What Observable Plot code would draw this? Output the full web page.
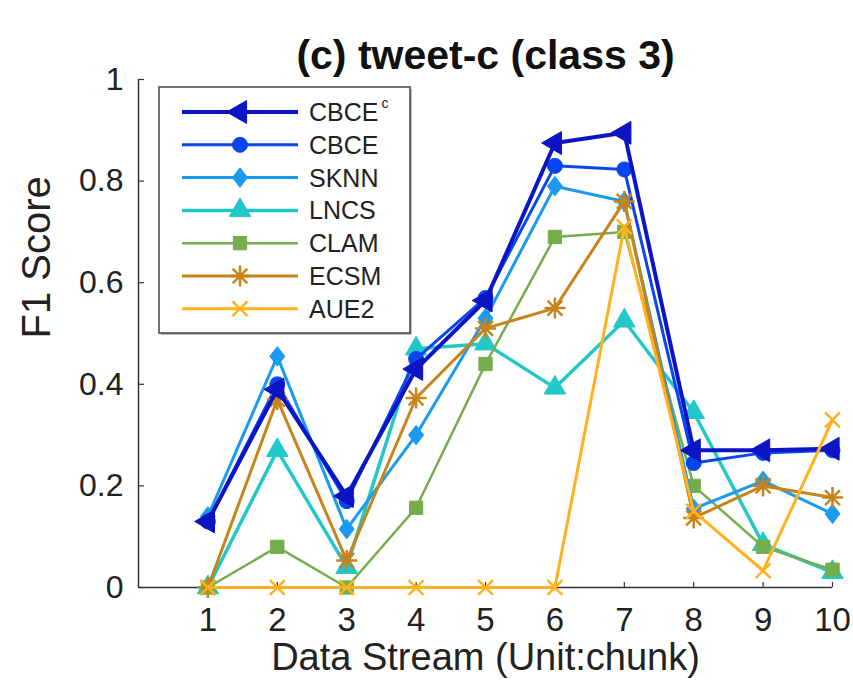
<!DOCTYPE html>
<html>
<head>
<meta charset="utf-8">
<script src="https://cdn.jsdelivr.net/npm/d3@7"></script>
<script src="https://cdn.jsdelivr.net/npm/@observablehq/plot@0.6"></script>
<style>
  html, body { margin: 0; padding: 0; background: #fff; }
  #chart { width: 853px; height: 689px; }
</style>
</head>
<body>
<div id="chart"></div>
<script>
// ---- data ----
const chunks = [1, 2, 3, 4, 5, 6, 7, 8, 9, 10];
const seriesNames = ["CBCE^c", "CBCE", "SKNN", "LNCS", "CLAM", "ECSM", "AUE2"];
const cbceC = [0.13, 0.39, 0.18, 0.43, 0.565, 0.875, 0.895, 0.27, 0.27, 0.273];
const cbce  = [0.13, 0.40, 0.17, 0.45, 0.57, 0.83, 0.823, 0.245, 0.265, 0.27];
const sknn  = [0.14, 0.455, 0.115, 0.30, 0.53, 0.79, 0.76, 0.155, 0.21, 0.145];
const lncs  = [0.0, 0.27, 0.04, 0.47, 0.48, 0.393, 0.525, 0.345, 0.085, 0.03];
const clam  = [0.0, 0.08, 0.0, 0.157, 0.44, 0.69, 0.70, 0.20, 0.08, 0.035];
const ecsm  = [0.0, 0.37, 0.053, 0.373, 0.51, 0.55, 0.76, 0.137, 0.20, 0.177];
const aue2  = [0.0, 0.0, 0.0, 0.0, 0.0, 0.0, 0.71, 0.15, 0.033, 0.33];
const xTicks = [1, 2, 3, 4, 5, 6, 7, 8, 9, 10];
const yTicks = [0, 0.2, 0.4, 0.6, 0.8, 1];
const title = "(c) tweet-c (class 3)";
const xLabel = "Data Stream (Unit:chunk)";
const yLabel = "F1 Score";

// ---- custom symbols ----
const asterisk8 = {
  draw(ctx, size) {
    const r = Math.sqrt(size / Math.PI);
    for (let k = 0; k < 4; k++) {
      const a = k * Math.PI / 4;
      const c = Math.cos(a) * r, s = Math.sin(a) * r;
      ctx.moveTo(-c, -s); ctx.lineTo(c, s);
    }
  }
};
const timesX = {
  draw(ctx, size) {
    const r = Math.sqrt(size / Math.PI);
    const c = r * Math.SQRT1_2;
    ctx.moveTo(-c, -c); ctx.lineTo(c, c);
    ctx.moveTo(-c, c); ctx.lineTo(c, -c);
  }
};
const diamondW = {
  draw(ctx, size) {
    const r = Math.sqrt(size / Math.PI);
    const h = r * 1.3, w = r * 1.0;
    ctx.moveTo(0, -h); ctx.lineTo(w, 0); ctx.lineTo(0, h); ctx.lineTo(-w, 0); ctx.closePath();
  }
};

const styles = {
  "CBCE^c": {values: cbceC, color: "#0c14c4", sw: 4,   symbol: "triangle", rotate: -90, r: 8.5, filled: true},
  "CBCE":   {values: cbce,  color: "#0a46f0", sw: 3,   symbol: "circle",   rotate: 0,   r: 7.5, filled: true},
  "SKNN":   {values: sknn,  color: "#1b9af0", sw: 3,   symbol: diamondW,   rotate: 0,   r: 7.5, filled: true},
  "LNCS":   {values: lncs,  color: "#22c8c8", sw: 3.5, symbol: "triangle", rotate: 0,   r: 8,   filled: true},
  "CLAM":   {values: clam,  color: "#74ad4c", sw: 2.5, symbol: "square",   rotate: 0,   r: 7.5, filled: true},
  "ECSM":   {values: ecsm,  color: "#c8841c", sw: 3,   symbol: asterisk8,  rotate: 0,   r: 10.5, filled: false},
  "AUE2":   {values: aue2,  color: "#ffb21e", sw: 3,   symbol: timesX,     rotate: 0,   r: 10.5, filled: false}
};
const drawOrder = ["LNCS", "CLAM", "SKNN", "CBCE", "ECSM", "CBCE^c", "AUE2"];

const rows = [];
for (const name of seriesNames) {
  styles[name].values.forEach((v, i) => rows.push({series: name, x: chunks[i], y: v}));
}

const W = 853, H = 689, mL = 138, mR = 21, mT = 79, mB = 102;
const frameW = W - mL - mR, frameH = H - mT - mB;

const seriesMarks = [];
for (const name of drawOrder) {
  const s = styles[name];
  const d = rows.filter(r => r.series === name);
  seriesMarks.push(Plot.line(d, {x: "x", y: "y", stroke: s.color, strokeWidth: s.sw, strokeLinejoin: "round"}));
  seriesMarks.push(Plot.dot(d, {
    x: "x", y: "y", r: s.r, symbol: s.symbol, rotate: s.rotate,
    fill: s.filled ? s.color : "none", stroke: s.color,
    strokeWidth: s.filled ? 1 : 2.5
  }));
}

const fmtY = d => (d === 0 || d === 1) ? String(d) : d.toFixed(1);

const svg = Plot.plot({
  width: W, height: H,
  marginLeft: mL, marginRight: mR, marginTop: mT, marginBottom: mB,
  style: {fontFamily: "'Liberation Sans', Arial, Helvetica, sans-serif", color: "#222", background: "#fff", overflow: "visible"},
  x: {domain: [0, 10]},
  y: {domain: [0, 1]},
  marks: [
    Plot.axisY({ticks: yTicks, tickSize: 0, tickPadding: 15, tickFormat: fmtY, fontSize: 32, label: null}),
    Plot.axisX({ticks: xTicks, tickSize: 0, tickPadding: 20, tickFormat: d => String(d), fontSize: 33, label: null}),
    Plot.tickY(yTicks, {y: d => d, insetRight: frameW - 6, stroke: "#333", strokeWidth: 1.2}),
    Plot.tickX(xTicks, {x: d => d, insetTop: frameH - 5, stroke: "#333", strokeWidth: 1.2}),
    Plot.ruleX([0], {stroke: "#333", strokeWidth: 1.5}),
    Plot.ruleY([0], {stroke: "#333", strokeWidth: 1.5}),
    ...seriesMarks,
    Plot.text([title], {frameAnchor: "top", dy: -40, fontSize: 41, fontWeight: "bold", fill: "#111"}),
    Plot.text([xLabel], {frameAnchor: "bottom", dy: 82, fontSize: 38, fill: "#222"}),
    Plot.text([yLabel], {frameAnchor: "left", dx: -101, dy: 5, rotate: -90, fontSize: 40, fill: "#222"})
  ]
});

// ---- legend overlay ----
const g = d3.select(svg).append("g").attr("text-anchor", "start");
const box = {x: 159, y: 87, w: 251, h: 246};
g.append("rect").attr("x", box.x + 2).attr("y", box.y + 2).attr("width", box.w).attr("height", box.h)
  .attr("fill", "#bbb");
g.append("rect").attr("x", box.x).attr("y", box.y).attr("width", box.w).attr("height", box.h)
  .attr("fill", "#fff").attr("stroke", "#444").attr("stroke-width", 1.5);
const symMap = {triangle: d3.symbolTriangle, circle: d3.symbolCircle, square: d3.symbolSquare};
seriesNames.forEach((name, i) => {
  const s = styles[name];
  const cy = 112 + i * 32.8;
  g.append("line").attr("x1", 182).attr("x2", 298).attr("y1", cy).attr("y2", cy)
    .attr("stroke", s.color).attr("stroke-width", s.sw);
  const type = typeof s.symbol === "string" ? symMap[s.symbol] : s.symbol;
  g.append("path").attr("d", d3.symbol(type, Math.PI * s.r * s.r)())
    .attr("transform", `translate(240,${cy}) rotate(${s.rotate})`)
    .attr("fill", s.filled ? s.color : "none").attr("stroke", s.color)
    .attr("stroke-width", s.filled ? 1 : 2.5);
  const t = g.append("text").attr("x", 309).attr("y", cy).attr("dy", "0.36em")
    .attr("font-size", 25).attr("fill", "#222").attr("text-anchor", "start");
  if (name === "CBCE^c") {
    t.append("tspan").text("CBCE");
    t.append("tspan").text("c").attr("font-size", 14).attr("dy", "-0.9em").attr("dx", 3);
  } else {
    t.text(name);
  }
});

document.getElementById("chart").appendChild(svg);
</script>
</body>
</html>
